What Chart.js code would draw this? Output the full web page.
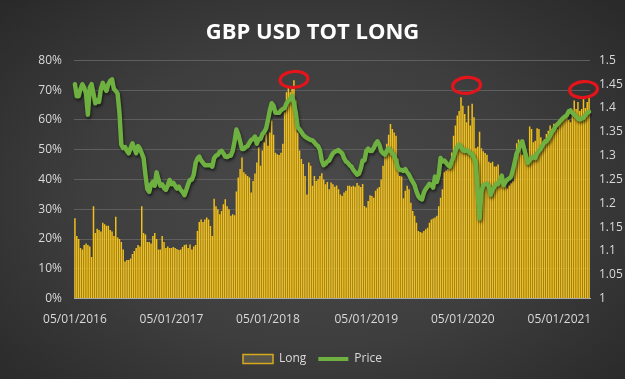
<!DOCTYPE html>
<html>
<head>
<meta charset="utf-8">
<script src="https://cdn.jsdelivr.net/npm/chart.js@4.4.1/dist/chart.umd.min.js"></script>
<style>
  html, body { margin:0; padding:0; }
  body { width:625px; height:379px; overflow:hidden;
    background: radial-gradient(ellipse 72% 78% at 50% 52%, #4a4a4a 0%, #3e3e3e 50%, #272727 100%); }
  .wrap { position:relative; width:625px; height:379px; }
</style>
</head>
<body>
<div class="wrap"><canvas id="ch-gbp"></canvas></div>
<script>
// weekly COT data, first week 05/01/2016
const startDay = '05/01/2016';
const xTickLabels = ['05/01/2016','05/01/2017','05/01/2018','05/01/2019','05/01/2020','05/01/2021'];

// % of positions that are long
const longPct = [
  // 2016
  27, 21, 20, 17, 16.5, 18, 18.5, 18, 17.5, 14,
  31, 22, 23.5, 23, 22.5, 25.5, 25, 24.5, 24.5, 23,
  22.5, 21, 27.5, 20.5, 20, 19, 16.5, 12.5, 13, 13,
  13.5, 15, 16, 17, 18, 17.5, 31, 22, 21.5, 19,
  19, 18.5, 21, 22, 20, 16.5, 16.5, 21, 19, 17,
  17.5, 17,
  // 2017
  17, 17.3, 17, 16.7, 16.3, 16.5, 17.3, 18, 18.2, 17,
  18.2, 16.5, 17.5, 18, 22.7, 25.7, 26.6, 25.7, 26.6, 27.2,
  26.6, 24.4, 21, 33.5, 31, 30, 28.3, 29.4, 31.7, 33.4,
  31, 30, 27.8, 28.3, 28, 36, 40.7, 43.5, 47.4, 42.4,
  41.8, 41.2, 40.7, 35.6, 39.5, 42, 45.7, 50.8, 44.6, 49.7,
  52.5, 55.3,
  // 2018
  51.3, 55.8, 59.8, 55, 49, 48.5, 48.2, 49, 52, 62.6,
  69.3, 71, 69.3, 70.4, 73.3, 66.5, 55.8, 49.7, 46.9, 45.2,
  41.2, 35, 45.7, 44.6, 37.9, 41.2, 39.5, 40.1, 41.2, 42.1,
  40, 38.4, 39.2, 36.7, 39, 38.4, 37.6, 38, 36.7, 35,
  34.5, 35.6, 36.2, 37.9, 37.9, 37.6, 37.9, 37.6, 38.8, 38,
  37.5, 38.5,
  // 2019
  31.1, 30.6, 32.8, 34.7, 34.5, 33.9, 36.2, 37, 37.5, 40,
  44.6, 49, 52, 55, 58.6, 57, 55.8, 54.7, 47, 41.2,
  41, 33.7, 36.2, 37.9, 36.7, 32.2, 29.4, 27.8, 25.5, 22.7,
  22.4, 22.1, 22.7, 23.3, 23.8, 25.5, 26.6, 26.9, 27.2, 27.8,
  31, 33.9, 36.7, 42.4, 42.9, 43.5, 45.7, 49.1, 54.7, 58.1,
  61.5, 63, 67.6,
  // 2020 - 2021
  64.8, 62, 59.2, 64.8, 58.1, 65.4, 60.9, 50.5, 51, 56,
  50.5, 49.5, 48.9, 48.3, 46, 45.5, 46, 44.4, 44.4, 45,
  40.5, 39.9, 39.4, 38, 37, 38, 38.7, 39.4, 43.8, 52.2,
  53.4, 50, 48.3, 48.3, 48.3, 45.5, 57.8, 57, 52.5, 53,
  57.2, 57, 54.2, 52.5, 53.5, 55.3, 56.4, 58.1, 55.5, 58.7,
  57.5, 57, 58.1, 58.7, 60.3, 61, 61.5, 60, 59.2, 61.5,
  66.5, 63.7, 66, 63, 63.7, 67, 64, 66, 68
];

// GBPUSD weekly close
const price = [
  // 2016
  1.45, 1.425, 1.425, 1.44, 1.45, 1.443, 1.43, 1.386, 1.443, 1.45,
  1.43, 1.41, 1.416, 1.413, 1.44, 1.453, 1.443, 1.436, 1.45, 1.457,
  1.46, 1.44, 1.436, 1.43, 1.39, 1.323, 1.316, 1.318, 1.31, 1.305,
  1.316, 1.326, 1.315, 1.305, 1.32, 1.315, 1.305, 1.295, 1.26, 1.23,
  1.224, 1.24, 1.245, 1.237, 1.265, 1.25, 1.237, 1.24, 1.232, 1.228,
  1.237, 1.249,
  // 2017
  1.24, 1.243, 1.237, 1.231, 1.235, 1.228, 1.224, 1.217, 1.228, 1.24,
  1.249, 1.25, 1.26, 1.284, 1.294, 1.298, 1.29, 1.285, 1.28, 1.28,
  1.28, 1.28, 1.277, 1.295, 1.3, 1.302, 1.308, 1.31, 1.305, 1.298,
  1.297, 1.3, 1.3, 1.31, 1.33, 1.355, 1.345, 1.33, 1.314, 1.314,
  1.318, 1.32, 1.327, 1.333, 1.335, 1.34, 1.325, 1.335, 1.335, 1.345,
  1.35, 1.357,
  // 2018
  1.375, 1.395, 1.41, 1.405, 1.39, 1.39, 1.39, 1.395, 1.398, 1.4,
  1.41, 1.415, 1.42, 1.425, 1.41, 1.39, 1.36, 1.355, 1.35, 1.344,
  1.34, 1.337, 1.335, 1.333, 1.332, 1.328, 1.323, 1.32, 1.312, 1.29,
  1.28, 1.283, 1.288, 1.29, 1.298, 1.305, 1.308, 1.31, 1.312, 1.308,
  1.305, 1.295, 1.288, 1.285, 1.28, 1.277, 1.27, 1.265, 1.26, 1.262,
  1.273, 1.29,
  // 2019
  1.29, 1.31, 1.315, 1.31, 1.31, 1.316, 1.325, 1.33, 1.323, 1.31,
  1.305, 1.302, 1.31, 1.316, 1.31, 1.305, 1.3, 1.29, 1.275, 1.27,
  1.27, 1.268, 1.272, 1.265, 1.26, 1.252, 1.245, 1.238, 1.225, 1.215,
  1.21, 1.208, 1.222, 1.23, 1.235, 1.241, 1.238, 1.233, 1.256, 1.245,
  1.26, 1.295, 1.288, 1.29, 1.285, 1.28, 1.277, 1.288, 1.297, 1.31,
  1.318, 1.323, 1.318,
  // 2020 - 2021
  1.312, 1.31, 1.312, 1.309, 1.305, 1.303, 1.295, 1.285, 1.224, 1.168,
  1.224, 1.238, 1.24, 1.241, 1.235, 1.218, 1.228, 1.235, 1.241, 1.24,
  1.25, 1.258, 1.238, 1.245, 1.25, 1.252, 1.256, 1.27, 1.287, 1.305,
  1.312, 1.325, 1.33, 1.315, 1.3, 1.285, 1.29, 1.295, 1.298, 1.295,
  1.305, 1.31, 1.315, 1.322, 1.328, 1.33, 1.335, 1.342, 1.35, 1.355,
  1.362, 1.366, 1.37, 1.375, 1.379, 1.382, 1.385, 1.393, 1.395, 1.39,
  1.386, 1.383, 1.378, 1.376, 1.378, 1.379, 1.385, 1.39, 1.392
];

// red hand-drawn rings over the long peaks: week index, % level
const ringWeek = [118, 211, 274];
const ringPct = [73.6, 71.6, 70.2];

const DAY = 864e5;
const parseDay = (s) => { const [d, m, y] = s.split('/').map(Number); return Date.UTC(y, m - 1, d); };
const fmtDay = (t) => { const d = new Date(t); const p = (n) => String(n).padStart(2, '0');
  return p(d.getUTCDate()) + '/' + p(d.getUTCMonth() + 1) + '/' + d.getUTCFullYear(); };

const t0 = parseDay(startDay);
const weeks = longPct.map((_, i) => fmtDay(t0 + i * 7 * DAY));
// which week each date label sits on
const tickAt = {};
xTickLabels.forEach(l => { tickAt[Math.round((parseDay(l) - t0) / (7 * DAY))] = l; });

const txt = '#d9d9d9';
const font = { family: 'Open Sans', size: 12 };

const lineShadow = {
  id: 'lineShadow',
  beforeDatasetDraw(chart, args) {
    if (args.index !== 1) return;
    const c = chart.ctx; c.save();
    c.shadowColor = 'rgba(0,0,0,0.6)'; c.shadowBlur = 3; c.shadowOffsetX = 1; c.shadowOffsetY = 2;
  },
  afterDatasetDraw(chart, args) { if (args.index === 1) chart.ctx.restore(); }
};

const rings = {
  id: 'rings',
  afterDatasetsDraw(chart) {
    const c = chart.ctx, xs = chart.scales.x, ys = chart.scales.y;
    c.save();
    c.strokeStyle = '#e3141b'; c.lineWidth = 3.2;
    ringWeek.forEach((w, i) => {
      const x = xs.getPixelForValue(w), y = ys.getPixelForValue(ringPct[i]);
      c.beginPath();
      c.ellipse(x, y, 14, 8, -0.08, 0, Math.PI * 2);
      c.stroke();
    });
    c.restore();
  }
};

new Chart(document.getElementById('ch-gbp').getContext('2d'), {
  data: {
    labels: weeks,
    datasets: [
      { type: 'bar', label: 'Long', data: longPct, yAxisID: 'y', order: 2,
        backgroundColor: '#f2c01a', barPercentage: 0.8, categoryPercentage: 1 },
      { type: 'line', label: 'Price', data: price, yAxisID: 'y2', order: 1,
        borderColor: '#6fb141', borderWidth: 4.5, pointRadius: 0, tension: 0,
        borderJoinStyle: 'round', borderCapStyle: 'round' }
    ]
  },
  options: {
    responsive: true, maintainAspectRatio: false, animation: false,
    layout: { padding: { left: 0, right: 0, top: 0, bottom: 4 } },
    plugins: {
      title: { display: true, text: 'GBP USD TOT LONG', color: '#ffffff',
        font: { family: 'Open Sans', size: 22, weight: 'bold' }, padding: { top: 20, bottom: 14 } },
      legend: { position: 'bottom',
        labels: { usePointStyle: true, pointStyleWidth: 30, boxHeight: 9, color: txt, font, padding: 12,
          generateLabels: () => [
            { text: 'Long', fillStyle: '#57544c', strokeStyle: '#d6a91c', lineWidth: 1.5, pointStyle: 'rect', fontColor: txt, datasetIndex: 0 },
            { text: 'Price', fillStyle: '#6fb141', strokeStyle: '#6fb141', lineWidth: 4, pointStyle: 'line', fontColor: txt, datasetIndex: 1 }
          ] } },
      tooltip: { enabled: false }
    },
    scales: {
      x: { offset: true, grid: { display: false, drawTicks: false },
        border: { display: true, color: '#a8a8a8', width: 1 },
        ticks: { autoSkip: false, maxRotation: 0, minRotation: 0, color: txt, font, padding: 14,
          callback: (v) => tickAt[v] || '' },
        afterBuildTicks: (s) => { s.ticks = s.ticks.filter(t => tickAt[t.value] !== undefined); } },
      y: { position: 'left', min: 0, max: 80,
        grid: { color: '#5e5e5e', drawTicks: false }, border: { display: false },
        ticks: { stepSize: 10, color: txt, font, padding: 12, callback: (v) => v + '%' },
        afterFit: (s) => { s.width = 74; } },
      y2: { position: 'right', min: 1, max: 1.5,
        grid: { display: false, drawTicks: false }, border: { display: false },
        ticks: { stepSize: 0.05, color: txt, font, padding: 9, callback: (v) => String(+v.toFixed(2)) },
        afterFit: (s) => { s.width = 35; } }
    }
  },
  plugins: [lineShadow, rings]
});
</script>
</body>
</html>
